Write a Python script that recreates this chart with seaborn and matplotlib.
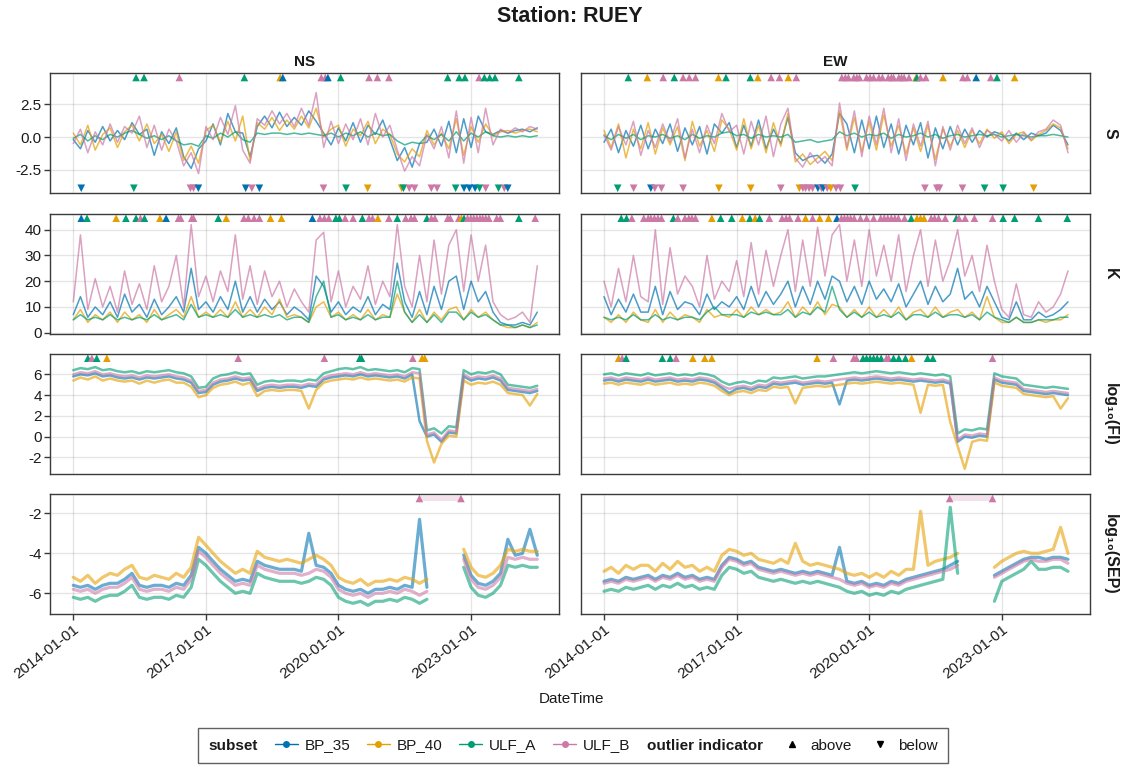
import numpy as np
import pandas as pd
import matplotlib
matplotlib.use("Agg")
import matplotlib.pyplot as plt
import matplotlib.dates as mdates
from matplotlib.lines import Line2D
import seaborn as sns

SUBSETS = ["BP_35", "BP_40", "ULF_A", "ULF_B"]
COLORS = ["#0072B2", "#E69F00", "#009E73", "#CC79A7"]
CODE = {"b": "BP_35", "o": "BP_40", "g": "ULF_A", "p": "ULF_B"}
COMPONENTS = ["NS", "EW"]
METRICS = ["S", "K", "FI", "SEP"]
ROW_LABELS = ["S", "K", "log₁₀(FI)", "log₁₀(SEP)"]
TICK_DATES = ["2014-01-01", "2017-01-01", "2020-01-01", "2023-01-01"]

# one value every two months, 2014-01 .. 2024-07 (one line per year)
DATES = pd.date_range("2014-01-01", periods=64, freq="2MS")
nan = np.nan

# ---------------- S ----------------
NS_S_BP35 = [-0.2, -0.9, 0.5, -0.4, 0.8, -0.3,
             0.5, -0.2, 1.1, 0.2, 0.6, -1.4,
             0.4, -0.5, 0.7, -1.5, -2.4, -0.9,
             -0.3, 1.0, -0.6, 1.8, 0.4, 0.3,
             -1.5, 0.8, 1.6, 0.7, 1.9, 0.8,
             1.5, 0.9, 2.0, 1.2, 0.3, -0.6,
             0.7, -0.3, 1.1, -0.4, 0.9, 0.2,
             1.3, -0.2, -1.8, -0.8, -2.3, -0.5,
             -0.4, 0.6, -0.7, 1.2, -1.2, 1.4,
             -0.8, 1.6, 0.4, 0.2, 0.5, 0.3,
             0.5, 0.6, 0.4, 0.7]
NS_S_BP40 = [0.3, -0.6, 0.9, -1.0, 0.2, 0.7,
             -0.8, 0.4, 0.9, -0.3, 1.0, -0.5,
             0.2, -1.1, 0.4, -1.8, -0.7, -2.0,
             0.5, 0.9, -0.4, 1.2, -0.3, 1.6,
             -1.8, 1.1, 0.6, 1.5, 0.5, 1.3,
             0.6, 1.6, 0.7, 2.2, 0.0, 0.6,
             0.9, -0.7, 0.6, 0.1, 1.2, -0.5,
             0.6, 0.2, -1.3, -1.9, -0.9, -1.5,
             0.5, -0.6, 0.3, -0.9, 1.4, -1.4,
             0.8, -0.4, 1.0, 0.1, 0.4, 0.5,
             0.3, 0.5, 0.6, 0.4]
NS_S_ULFA = [-0.1, 0.2, -0.3, 0.1, -0.2, 0.2,
             0.0, 0.3, 0.5, 0.2, -0.1, 0.1,
             -0.2, 0.1, -0.3, -0.6, -0.5, -0.7,
             0.1, -0.1, 0.3, 0.0, 0.4, -0.2,
             -0.4, 0.3, 0.2, 0.3, 0.3, 0.2,
             0.3, 0.2, 0.3, 0.2, 0.1, 0.3,
             0.0, 0.3, 0.1, 0.4, 0.0, 0.3,
             0.1, 0.2, -0.3, -0.6, -0.4, -0.5,
             0.1, -0.2, 0.2, -0.3, 0.4, -0.3,
             0.3, 0.0, 0.4, 0.1, 0.0, 0.1,
             0.0, 0.1, 0.0, 0.1]
NS_S_ULFB = [-0.5, 0.6, -1.2, 0.4, -0.6, 1.0,
             -0.4, 0.8, 0.3, 1.6, -0.8, 0.9,
             -1.0, 0.6, -0.3, -2.2, -1.2, -2.8,
             0.8, -0.2, 1.5, 0.2, 2.4, -1.0,
             -2.0, 1.4, 0.9, 2.0, 1.0, 1.8,
             0.8, 2.2, 0.9, 3.4, -0.8, 1.2,
             -0.5, 1.0, -0.2, 1.4, -0.6, 1.8,
             0.0, 0.9, -1.0, -2.6, -1.5, -2.2,
             0.2, -0.9, 0.8, -1.6, 2.0, -2.0,
             1.5, -1.2, 2.2, -0.6, 0.6, 0.3,
             0.7, 0.4, 0.8, 0.6]

EW_S_BP35 = [-0.4, 0.6, -1.2, 0.5, -0.7, 0.9,
             -0.9, 0.6, -0.5, 1.0, -1.1, 0.7,
             -0.6, 0.8, -1.3, 1.0, 0.3, 1.1,
             -0.8, 0.9, -0.7, 1.3, -0.9, 0.6,
             -0.5, 1.5, -1.2, -1.8, -1.5, -1.4,
             -2.0, -1.3, 1.8, 1.0, -1.2, 1.3,
             -0.9, 1.6, -0.8, 1.0, -1.3, 0.9,
             -0.6, 1.1, -1.6, 0.7, -0.9, 0.8,
             -0.6, 0.6, -0.4, 0.5, 0.0, 0.4,
             0.2, -0.3, 0.3, -0.2, 0.3, 0.1,
             0.3, 0.9, 0.5, -0.6]
EW_S_BP40 = [0.5, -0.8, 1.0, -1.6, 0.6, -0.9,
             1.1, -1.3, 0.7, -0.6, 0.8, -1.8,
             1.2, -0.7, 0.5, -1.1, 1.3, 0.6,
             -1.0, 1.4, -0.9, 0.9, -1.2, 1.1,
             -0.7, 1.8, -1.9, -1.3, -2.1, -1.6,
             -1.1, -1.8, 2.0, -1.0, 1.5, -1.1,
             1.2, -1.0, 1.7, -0.7, 0.9, -1.3,
             0.7, -1.1, 0.9, -1.7, 0.6, -0.7,
             0.5, -0.8, 0.5, -0.5, 0.6, -0.1,
             0.4, -0.5, 0.2, 0.4, -0.3, 0.2,
             0.5, 1.0, 0.7, -0.9]
EW_S_ULFA = [0.1, -0.2, 0.2, -0.1, 0.2, -0.2,
             0.1, 0.0, 0.2, -0.1, 0.1, -0.2,
             0.2, -0.1, 0.1, 0.0, 0.3, 0.4,
             0.1, 0.2, -0.1, 0.2, 0.0, 0.1,
             0.0, 0.2, -0.4, -0.3, -0.2, -0.4,
             -0.3, -0.2, 0.4, 0.1, 0.3, 0.0,
             0.2, 0.1, 0.3, -0.1, 0.2, 0.0,
             0.1, 0.3, 0.0, 0.2, -0.1, 0.1,
             0.2, 0.0, 0.1, 0.2, 0.1, 0.2,
             0.0, 0.1, 0.2, 0.1, 0.0, 0.1,
             0.1, 0.2, 0.1, 0.0]
EW_S_ULFB = [0.2, -1.0, 0.8, -0.6, 1.2, -1.4,
             0.5, -0.8, 1.0, -0.4, 1.4, -1.6,
             0.6, -1.2, 0.9, -0.5, 1.8, 0.4,
             0.9, -1.3, 1.2, -0.6, 1.6, -1.5,
             1.0, 2.2, -1.6, -2.3, -1.2, -2.0,
             -1.5, -2.2, 2.6, -0.8, 2.0, -1.5,
             1.6, -0.6, 2.2, -1.2, 1.4, -1.8,
             1.0, -0.7, 1.2, -2.2, 0.8, -1.0,
             0.9, -0.5, 0.7, -0.8, 0.5, 0.2,
             -0.3, 0.5, -0.4, 0.3, -0.2, 0.4,
             0.6, 1.3, 0.9, -1.2]

# ---------------- K ----------------
NS_K_BP35 = [7, 14, 6, 10, 7, 12,
             6, 15, 8, 11, 6, 13,
             7, 10, 14, 8, 25, 9,
             12, 8, 14, 9, 20, 8,
             14, 8, 13, 9, 12, 7,
             10, 8, 5, 22, 18, 8,
             12, 7, 10, 8, 14, 7,
             11, 9, 27, 12, 6, 16,
             7, 18, 9, 20, 22, 9,
             20, 12, 16, 8, 4, 3,
             3, 4, 3, 8]
NS_K_BP40 = [5, 9, 4, 7, 5, 8,
             4, 8, 5, 7, 4, 9,
             5, 7, 9, 6, 14, 6,
             8, 6, 9, 6, 12, 6,
             9, 6, 10, 7, 13, 6,
             7, 6, 4, 10, 12, 6,
             8, 5, 7, 5, 9, 5,
             7, 6, 15, 8, 4, 9,
             4, 8, 5, 9, 10, 5,
             9, 6, 8, 5, 3, 2,
             2, 3, 2, 4]
NS_K_ULFA = [5, 7, 5, 6, 5, 7,
             5, 6, 5, 6, 5, 7,
             5, 6, 7, 5, 11, 6,
             7, 6, 7, 6, 9, 6,
             7, 6, 7, 6, 7, 5,
             6, 6, 4, 14, 20, 6,
             7, 5, 6, 5, 7, 5,
             6, 6, 20, 8, 4, 7,
             4, 7, 4, 8, 8, 5,
             8, 6, 7, 5, 3, 3,
             2, 3, 2, 3]
NS_K_ULFB = [12, 38, 9, 21, 10, 18,
             8, 24, 11, 19, 9, 26,
             12, 18, 30, 10, 42, 14,
             22, 12, 24, 16, 38, 13,
             26, 11, 24, 14, 20, 10,
             17, 12, 8, 36, 39, 12,
             24, 10, 18, 13, 26, 11,
             20, 14, 42, 18, 10, 30,
             12, 36, 15, 34, 40, 16,
             38, 20, 34, 12, 7, 5,
             6, 8, 4, 26]

EW_K_BP35 = [14, 7, 13, 8, 15, 8,
             8, 18, 7, 16, 9, 12,
             11, 7, 15, 9, 12, 10,
             14, 9, 18, 10, 16, 11,
             15, 20, 10, 18, 11, 20,
             13, 22, 20, 12, 18, 11,
             20, 13, 17, 12, 19, 10,
             15, 20, 11, 18, 12, 15,
             25, 13, 16, 10, 18, 12,
             6, 5, 12, 5, 5, 8,
             6, 7, 9, 12]
EW_K_BP40 = [6, 4, 7, 4, 8, 5,
             4, 9, 4, 8, 5, 7,
             6, 4, 9, 6, 7, 6,
             9, 6, 10, 7, 9, 7,
             8, 12, 6, 10, 7, 12,
             7, 11, 10, 6, 9, 6,
             10, 6, 9, 6, 10, 5,
             8, 9, 6, 10, 6, 8,
             9, 6, 8, 5, 14, 6,
             4, 4, 6, 4, 4, 5,
             4, 5, 5, 7]
EW_K_ULFA = [6, 5, 6, 5, 7, 5,
             5, 7, 5, 6, 5, 6,
             6, 5, 8, 10, 7, 7,
             7, 6, 8, 7, 8, 7,
             7, 9, 6, 8, 7, 10,
             8, 18, 9, 6, 8, 6,
             8, 6, 7, 6, 8, 5,
             7, 7, 6, 8, 6, 7,
             7, 6, 7, 5, 8, 6,
             5, 4, 6, 4, 4, 5,
             5, 5, 6, 6]
EW_K_ULFB = [20, 10, 25, 12, 30, 14,
             12, 40, 11, 33, 15, 22,
             18, 10, 30, 13, 20, 16,
             28, 14, 35, 15, 32, 18,
             30, 40, 16, 36, 18, 41,
             22, 38, 42, 20, 36, 18,
             40, 22, 34, 20, 38, 16,
             30, 40, 18, 36, 20, 28,
             40, 22, 30, 16, 34, 20,
             9, 6, 19, 7, 6, 12,
             8, 10, 15, 24]

# ---------------- log10(FI) ----------------
NS_FI_BP35 = [5.8, 6.0, 5.9, 6.1, 5.8, 5.9,
              5.7, 5.6, 5.7, 5.5, 5.7, 5.6,
              5.7, 5.8, 5.6, 5.5, 5.2, 4.2,
              4.3, 5.0, 5.3, 5.4, 5.6, 5.4,
              5.5, 4.4, 4.7, 4.8, 4.7, 4.8,
              4.8, 4.7, 4.9, 4.8, 5.5, 5.7,
              5.8, 5.9, 5.8, 6.0, 5.8, 5.9,
              5.8, 5.7, 5.8, 5.6, 6.0, 1.5,
              0.0, 0.2, -0.5, 0.4, 0.3, 5.8,
              5.4, 5.6, 5.5, 5.7, 5.4, 4.5,
              4.4, 4.3, 4.2, 4.4]
NS_FI_BP40 = [5.4, 5.7, 5.5, 5.8, 5.4, 5.6,
              5.4, 5.3, 5.4, 5.1, 5.4, 5.2,
              5.4, 5.5, 5.2, 5.2, 4.8, 3.8,
              4.0, 4.7, 5.0, 5.1, 5.3, 5.0,
              5.2, 3.9, 4.4, 4.5, 4.4, 4.5,
              4.5, 4.4, 2.7, 4.5, 5.2, 5.4,
              5.5, 5.6, 5.5, 5.7, 5.5, 5.6,
              5.5, 5.4, 5.5, 5.3, 5.7, 5.6,
              -0.4, -2.5, -0.7, 0.1, 0.0, 5.4,
              5.0, 5.2, 5.1, 5.3, 5.0, 4.2,
              4.1, 4.0, 3.0, 4.1]
NS_FI_ULFA = [6.4, 6.6, 6.5, 6.7, 6.4, 6.5,
              6.3, 6.2, 6.3, 6.1, 6.3, 6.2,
              6.3, 6.4, 6.2, 6.1, 5.8, 4.7,
              4.8, 5.6, 5.9, 6.0, 6.2, 6.0,
              6.1, 5.0, 5.3, 5.4, 5.3, 5.4,
              5.4, 5.3, 5.5, 5.4, 6.1, 6.3,
              6.5, 6.6, 6.5, 6.7, 6.4, 6.5,
              6.4, 6.3, 6.4, 6.2, 6.6, 6.5,
              0.6, 0.8, 0.3, 1.0, 0.9, 6.4,
              6.0, 6.2, 6.1, 6.3, 6.0, 5.0,
              4.9, 4.8, 4.7, 4.9]
NS_FI_ULFB = [6.0, 6.2, 6.1, 6.3, 6.0, 6.1,
              5.9, 5.8, 5.9, 5.7, 5.9, 5.8,
              5.9, 6.0, 5.8, 5.7, 5.4, 4.4,
              4.5, 5.2, 5.5, 5.6, 5.8, 5.6,
              5.7, 4.6, 4.9, 5.0, 4.9, 5.0,
              5.0, 4.9, 5.1, 5.0, 5.7, 5.9,
              6.0, 6.1, 6.0, 6.2, 6.0, 6.1,
              6.0, 5.9, 6.0, 5.8, 6.2, 6.1,
              0.2, 0.4, -0.3, 0.6, 0.5, 6.0,
              5.6, 5.8, 5.7, 5.9, 5.6, 4.7,
              4.6, 4.5, 4.4, 4.6]

EW_FI_BP35 = [5.4, 5.5, 5.3, 5.5, 5.4, 5.3,
              5.5, 5.3, 5.4, 5.5, 5.3, 5.4,
              5.3, 5.5, 5.4, 5.2, 4.7, 4.2,
              4.6, 4.7, 4.5, 4.8, 4.7, 5.1,
              5.0, 5.1, 5.2, 5.0, 5.1, 5.2,
              5.1, 5.2, 3.1, 5.4, 5.5, 5.4,
              5.5, 5.6, 5.5, 5.4, 5.5, 5.4,
              5.3, 5.4, 5.3, 5.2, 5.3, 5.1,
              -0.5, 0.0, -0.1, 0.1, 0.0, 5.5,
              5.2, 5.1, 5.0, 4.4, 4.3, 4.2,
              4.1, 4.2, 4.1, 4.0]
EW_FI_BP40 = [5.1, 5.2, 5.0, 5.2, 5.1, 5.0,
              5.2, 5.0, 5.1, 5.2, 5.0, 5.1,
              5.0, 5.2, 5.1, 4.9, 4.4, 4.0,
              4.3, 4.4, 4.2, 4.5, 4.4, 4.8,
              4.7, 4.8, 3.2, 4.7, 4.8, 4.9,
              4.8, 4.9, 5.0, 5.1, 5.2, 5.1,
              5.2, 5.3, 5.2, 5.1, 5.2, 5.1,
              5.0, 2.3, 5.0, 4.9, 5.0, 1.4,
              -0.9, -3.1, -0.5, -0.3, -0.4, 5.2,
              4.9, 4.8, 4.7, 4.1, 4.0, 3.9,
              3.8, 3.9, 2.7, 3.7]
EW_FI_ULFA = [6.0, 6.1, 5.9, 6.1, 6.0, 5.9,
              6.1, 5.9, 6.0, 6.1, 5.9, 6.0,
              5.9, 6.1, 6.0, 5.8, 5.3, 5.0,
              5.2, 5.3, 5.1, 5.4, 5.3, 5.7,
              5.6, 5.7, 5.8, 5.6, 5.7, 5.8,
              5.8, 5.9, 6.0, 6.1, 6.2, 6.1,
              6.2, 6.3, 6.2, 6.1, 6.2, 6.1,
              6.0, 6.1, 6.0, 5.9, 6.0, 5.8,
              0.3, 0.7, 0.6, 0.8, 0.7, 6.1,
              5.8, 5.7, 5.6, 5.0, 4.9, 4.8,
              4.7, 4.8, 4.7, 4.6]
EW_FI_ULFB = [5.6, 5.7, 5.5, 5.7, 5.6, 5.5,
              5.7, 5.5, 5.6, 5.7, 5.5, 5.6,
              5.5, 5.7, 5.6, 5.4, 4.9, 4.6,
              4.8, 4.9, 4.7, 5.0, 4.9, 5.3,
              5.2, 5.3, 5.4, 5.2, 5.3, 5.4,
              5.3, 5.4, 5.5, 5.6, 5.7, 5.6,
              5.7, 5.8, 5.7, 5.6, 5.7, 5.6,
              5.5, 5.6, 5.5, 5.4, 5.5, 5.3,
              -0.3, 0.2, 0.1, 0.3, 0.2, 5.7,
              5.4, 5.3, 5.2, 4.6, 4.5, 4.4,
              4.3, 4.4, 4.3, 4.2]

# ---------------- log10(SEP) ----------------
NS_SEP_BP35 = [-5.6, -5.7, -5.6, -5.8, -5.6, -5.5,
               -5.5, -5.3, -5.0, -5.6, -5.7, -5.6,
               -5.6, -5.7, -5.5, -5.6, -5.1, -3.7,
               -4.0, -4.4, -4.8, -5.1, -5.4, -5.3,
               -5.4, -4.4, -4.6, -4.7, -4.8, -4.8,
               -4.8, -4.9, -3.0, -4.6, -4.7, -5.0,
               -5.6, -5.8, -5.9, -5.8, -6.0, -5.8,
               -5.8, -5.7, -5.8, -5.6, -5.7, -2.3,
               -5.7, nan, nan, nan, nan, -4.1,
               -5.1, -5.5, -5.6, -5.4, -5.0, -3.3,
               -4.1, -4.0, -2.8, -4.1]
NS_SEP_BP40 = [-5.2, -5.4, -5.1, -5.5, -5.2, -5.0,
               -5.1, -4.8, -4.6, -5.2, -5.3, -5.1,
               -5.2, -5.3, -5.0, -5.2, -4.7, -3.2,
               -3.6, -4.0, -4.4, -4.7, -5.0, -4.8,
               -5.0, -3.9, -4.2, -4.3, -4.4, -4.3,
               -4.4, -4.5, -4.3, -4.1, -4.3, -4.6,
               -5.2, -5.4, -5.5, -5.3, -5.6, -5.4,
               -5.4, -5.3, -5.4, -5.2, -5.3, -5.5,
               -5.3, nan, nan, nan, nan, -3.8,
               -4.7, -5.1, -5.2, -5.0, -4.6, -3.8,
               -3.9, -3.8, -3.9, -3.9]
NS_SEP_ULFA = [-6.2, -6.3, -6.2, -6.4, -6.2, -6.1,
               -6.1, -5.9, -5.6, -6.2, -6.3, -6.2,
               -6.2, -6.3, -6.1, -6.2, -5.7, -4.3,
               -4.6, -5.0, -5.4, -5.7, -6.0, -5.9,
               -6.0, -5.0, -5.2, -5.3, -5.4, -5.4,
               -5.4, -5.5, -5.4, -5.2, -5.3, -5.6,
               -6.2, -6.4, -6.5, -6.4, -6.6, -6.4,
               -6.4, -6.3, -6.4, -6.2, -6.3, -6.5,
               -6.3, nan, nan, nan, nan, -4.7,
               -5.7, -6.1, -6.2, -6.0, -5.6, -4.6,
               -4.7, -4.6, -4.7, -4.7]
NS_SEP_ULFB = [-5.8, -5.9, -5.8, -6.0, -5.8, -5.7,
               -5.7, -5.5, -5.2, -5.8, -5.9, -5.8,
               -5.8, -5.9, -5.7, -5.8, -5.3, -3.9,
               -4.2, -4.6, -5.0, -5.3, -5.6, -5.5,
               -5.6, -4.6, -4.8, -4.9, -5.0, -5.0,
               -5.0, -5.1, -5.0, -4.8, -4.9, -5.2,
               -5.8, -6.0, -6.1, -6.0, -6.2, -6.0,
               -6.0, -5.9, -6.0, -5.8, -5.9, -6.1,
               -5.9, nan, nan, nan, nan, -4.3,
               -5.3, -5.7, -5.8, -5.6, -5.2, -4.2,
               -4.3, -4.2, -4.3, -4.3]

EW_SEP_BP35 = [-5.4, -5.3, -5.4, -5.2, -5.3, -5.2,
               -5.1, -5.3, -5.1, -5.2, -5.0, -5.2,
               -5.1, -5.3, -5.2, -5.3, -4.6, -4.2,
               -4.3, -4.5, -4.4, -4.7, -4.8, -4.9,
               -4.8, -4.9, -5.0, -4.9, -5.0, -4.9,
               -5.0, -5.1, -3.7, -5.4, -5.5, -5.4,
               -5.6, -5.5, -5.6, -5.4, -5.5, -5.3,
               -5.2, -5.1, -5.0, -4.9, -4.8, -4.6,
               -4.4, nan, nan, nan, nan, -5.1,
               -4.9, -4.7, -4.5, -4.3, -4.2, -4.2,
               -4.3, -4.2, -4.2, -4.3]
EW_SEP_BP40 = [-4.9, -4.7, -5.0, -4.6, -4.8, -4.6,
               -4.6, -4.9, -4.5, -4.8, -4.4, -4.7,
               -4.6, -4.9, -4.7, -4.9, -4.1, -3.8,
               -3.9, -4.1, -4.0, -4.3, -4.4, -4.5,
               -4.3, -4.5, -3.5, -4.4, -4.6, -4.5,
               -4.6, -4.7, -4.8, -5.0, -5.1, -5.0,
               -5.2, -5.0, -5.2, -4.9, -5.1, -4.8,
               -4.8, -1.9, -4.6, -4.4, -4.3, -4.2,
               -4.0, nan, nan, nan, nan, -4.7,
               -4.4, -4.2, -4.0, -3.9, -4.0, -4.0,
               -3.9, -3.8, -2.7, -4.0]
EW_SEP_ULFA = [-5.9, -5.8, -5.9, -5.7, -5.8, -5.7,
               -5.6, -5.8, -5.6, -5.7, -5.5, -5.7,
               -5.6, -5.8, -5.7, -5.8, -5.1, -4.7,
               -4.8, -5.0, -4.9, -5.2, -5.3, -5.4,
               -5.3, -5.4, -5.5, -5.4, -5.5, -5.4,
               -5.5, -5.6, -5.7, -5.9, -6.0, -5.9,
               -6.1, -6.0, -6.1, -5.9, -6.0, -5.8,
               -5.7, -5.6, -5.5, -5.4, -5.3, -1.7,
               -5.0, nan, nan, nan, nan, -6.4,
               -5.4, -5.2, -5.0, -4.8, -4.4, -4.8,
               -4.8, -4.7, -4.7, -4.9]
EW_SEP_ULFB = [-5.5, -5.4, -5.5, -5.3, -5.4, -5.3,
               -5.2, -5.4, -5.2, -5.3, -5.1, -5.3,
               -5.2, -5.4, -5.3, -5.4, -4.7, -4.3,
               -4.4, -4.6, -4.5, -4.8, -4.9, -5.0,
               -4.9, -5.0, -5.1, -5.0, -5.1, -5.0,
               -5.1, -5.2, -5.3, -5.5, -5.6, -5.5,
               -5.7, -5.6, -5.7, -5.5, -5.6, -5.4,
               -5.3, -5.2, -5.1, -5.0, -4.9, -4.8,
               -4.6, nan, nan, nan, nan, -5.2,
               -5.0, -4.8, -4.6, -4.4, -4.3, -4.4,
               -4.4, -4.3, -4.3, -4.5]

# ---------------- outlier indicators (decimal year, subset code) ----------------
NS_S_UP = [(2015.42, "g"), (2015.60, "g"), (2016.40, "p"), (2017.87, "g"), (2018.68, "o"),
           (2018.74, "b"), (2019.61, "p"), (2019.70, "p"), (2019.76, "b"), (2020.05, "g"),
           (2020.69, "p"), (2020.88, "p"), (2021.14, "p"), (2022.47, "g"), (2022.73, "g"),
           (2022.86, "g"), (2023.18, "p"), (2023.30, "g"), (2023.42, "g"), (2023.54, "g"),
           (2024.08, "g")]
NS_S_DOWN = [(2014.18, "b"), (2015.37, "g"), (2016.65, "p"), (2016.72, "p"), (2016.83, "b"),
             (2017.90, "b"), (2018.04, "p"), (2018.21, "b"), (2019.66, "p"), (2020.17, "g"),
             (2020.66, "o"), (2021.43, "o"), (2021.47, "g"), (2021.60, "p"), (2021.72, "p"),
             (2022.10, "p"), (2022.23, "p"), (2022.65, "g"), (2022.84, "b"), (2022.96, "b"),
             (2023.09, "b"), (2023.19, "g"), (2023.33, "p"), (2023.62, "g"), (2023.75, "p"),
             (2023.83, "b")]
EW_S_UP = [(2014.55, "g"), (2014.98, "o"), (2015.34, "p"), (2015.59, "g"), (2015.79, "p"),
           (2015.93, "p"), (2016.07, "p"), (2016.59, "o"), (2016.76, "g"), (2017.31, "g"),
           (2017.48, "o"), (2017.78, "p"), (2017.97, "p"), (2018.17, "o"), (2018.35, "p"),
           (2019.38, "p"), (2019.46, "p"), (2019.53, "p"), (2019.65, "p"), (2019.72, "p"),
           (2019.78, "p"), (2019.94, "p"), (2020.02, "p"), (2020.10, "p"), (2020.22, "p"),
           (2020.30, "p"), (2020.43, "p"), (2020.50, "p"), (2020.55, "p"), (2020.67, "p"),
           (2020.73, "p"), (2020.79, "p"), (2020.90, "p"), (2021.06, "o"), (2021.08, "g"),
           (2021.16, "p"), (2021.28, "p"), (2021.67, "o"), (2022.12, "p"), (2022.22, "p"),
           (2022.42, "b"), (2022.75, "p"), (2022.89, "g"), (2023.29, "o")]
EW_S_DOWN = [(2014.31, "g"), (2014.67, "p"), (2015.06, "b"), (2015.15, "p"), (2015.30, "p"),
             (2015.79, "p"), (2016.60, "o"), (2017.32, "o"), (2018.00, "p"), (2018.42, "o"),
             (2018.50, "p"), (2018.56, "p"), (2018.64, "p"), (2018.72, "p"), (2018.84, "b"),
             (2018.92, "p"), (2018.96, "b"), (2019.05, "p"), (2019.13, "o"), (2019.25, "p"),
             (2019.35, "p"), (2019.68, "g"), (2021.26, "p"), (2021.53, "p"), (2021.59, "p"),
             (2022.11, "p"), (2022.61, "g"), (2023.03, "g"), (2023.72, "o")]
NS_K_UP = [(2014.18, "b"), (2014.31, "g"), (2014.97, "o"), (2015.19, "g"), (2015.42, "g"),
           (2015.52, "p"), (2015.61, "g"), (2015.96, "o"), (2016.10, "b"), (2016.38, "p"),
           (2016.43, "p"), (2016.68, "p"), (2016.72, "p"), (2017.28, "g"), (2017.46, "o"),
           (2017.86, "p"), (2017.96, "p"), (2018.09, "p"), (2018.21, "p"), (2018.46, "o"),
           (2018.71, "o"), (2019.41, "b"), (2019.58, "p"), (2019.68, "p"), (2019.78, "p"),
           (2019.94, "g"), (2020.02, "g"), (2020.15, "p"), (2020.33, "p"), (2020.54, "g"),
           (2020.69, "p"), (2020.77, "p"), (2020.89, "o"), (2021.14, "p"), (2021.33, "g"),
           (2021.52, "p"), (2021.64, "p"), (2021.72, "p"), (2022.00, "g"), (2022.10, "p"),
           (2022.18, "p"), (2022.47, "p"), (2022.53, "p"), (2022.72, "p"), (2022.78, "o"),
           (2022.84, "g"), (2022.92, "p"), (2022.99, "p"), (2023.06, "p"), (2023.13, "p"),
           (2023.20, "p"), (2023.26, "p"), (2023.33, "p"), (2023.40, "p"), (2023.58, "p"),
           (2023.66, "p"), (2024.08, "g"), (2024.45, "p")]
EW_K_UP = [(2014.39, "g"), (2014.51, "g"), (2014.63, "p"), (2014.90, "p"), (2015.00, "p"),
           (2015.06, "p"), (2015.14, "p"), (2015.22, "p"), (2015.30, "p"), (2015.57, "g"),
           (2015.67, "p"), (2015.83, "p"), (2015.92, "p"), (2015.99, "p"), (2016.07, "p"),
           (2016.44, "o"), (2016.64, "g"), (2016.89, "g"), (2017.13, "o"), (2017.30, "g"),
           (2017.42, "o"), (2017.52, "g"), (2017.74, "p"), (2018.03, "p"), (2018.12, "p"),
           (2018.20, "p"), (2018.39, "p"), (2018.56, "o"), (2018.72, "p"), (2018.88, "o"),
           (2019.08, "o"), (2019.27, "b"), (2019.37, "p"), (2019.44, "p"), (2019.51, "p"),
           (2019.58, "p"), (2019.66, "p"), (2019.80, "p"), (2019.94, "p"), (2020.10, "p"),
           (2020.26, "p"), (2020.34, "p"), (2020.42, "p"), (2020.50, "p"), (2020.58, "p"),
           (2020.66, "p"), (2020.80, "p"), (2020.95, "g"), (2021.08, "o"), (2021.16, "o"),
           (2021.24, "o"), (2021.40, "p"), (2021.48, "p"), (2021.57, "p"), (2021.72, "p"),
           (2021.97, "g"), (2022.03, "p"), (2022.17, "p"), (2022.38, "p"), (2022.79, "p"),
           (2023.03, "g"), (2023.29, "g"), (2023.83, "g"), (2024.48, "g")]
NS_FI_UP = [(2014.33, "g"), (2014.42, "p"), (2014.53, "g"), (2014.76, "o"), (2017.73, "p"),
            (2019.68, "p"), (2020.48, "g"), (2020.52, "g"), (2021.68, "p"), (2021.89, "o"),
            (2021.95, "o")]
EW_FI_UP = [(2014.33, "o"), (2014.41, "p"), (2014.50, "g"), (2015.32, "g"), (2015.50, "g"),
            (2015.63, "p"), (2016.01, "o"), (2016.28, "o"), (2016.44, "o"), (2018.82, "o"),
            (2019.19, "p"), (2019.65, "p"), (2019.71, "p"), (2019.86, "g"), (2019.94, "g"),
            (2020.02, "g"), (2020.10, "g"), (2020.18, "g"), (2020.27, "g"), (2020.39, "p"),
            (2020.44, "p"), (2020.55, "g"), (2020.67, "g"), (2020.82, "g"), (2020.96, "o"),
            (2021.32, "g"), (2021.44, "g"), (2022.79, "p")]
NS_SEP_UP = [(2021.83, "p"), (2022.77, "p")]
EW_SEP_UP = [(2021.82, "p"), (2022.79, "p")]
NS_SEP_FLAGGED = [2021.83, 2022.77]
EW_SEP_FLAGGED = [2021.82, 2022.79]

SERIES = {
    ("NS", "S"): [NS_S_BP35, NS_S_BP40, NS_S_ULFA, NS_S_ULFB],
    ("EW", "S"): [EW_S_BP35, EW_S_BP40, EW_S_ULFA, EW_S_ULFB],
    ("NS", "K"): [NS_K_BP35, NS_K_BP40, NS_K_ULFA, NS_K_ULFB],
    ("EW", "K"): [EW_K_BP35, EW_K_BP40, EW_K_ULFA, EW_K_ULFB],
    ("NS", "FI"): [NS_FI_BP35, NS_FI_BP40, NS_FI_ULFA, NS_FI_ULFB],
    ("EW", "FI"): [EW_FI_BP35, EW_FI_BP40, EW_FI_ULFA, EW_FI_ULFB],
    ("NS", "SEP"): [NS_SEP_BP35, NS_SEP_BP40, NS_SEP_ULFA, NS_SEP_ULFB],
    ("EW", "SEP"): [EW_SEP_BP35, EW_SEP_BP40, EW_SEP_ULFA, EW_SEP_ULFB],
}
OUTLIERS = {
    ("NS", "S"): (NS_S_UP, NS_S_DOWN), ("EW", "S"): (EW_S_UP, EW_S_DOWN),
    ("NS", "K"): (NS_K_UP, []), ("EW", "K"): (EW_K_UP, []),
    ("NS", "FI"): (NS_FI_UP, []), ("EW", "FI"): (EW_FI_UP, []),
    ("NS", "SEP"): (NS_SEP_UP, []), ("EW", "SEP"): (EW_SEP_UP, []),
}
FLAGGED = {("NS", "SEP"): NS_SEP_FLAGGED, ("EW", "SEP"): EW_SEP_FLAGGED}

YLIMS = {"S": (-4.3, 4.87), "K": (-0.5, 46.1), "FI": (-3.6, 7.96), "SEP": (-7.05, -1.05)}
YTICKS = {"S": [-2.5, 0.0, 2.5], "K": [0, 10, 20, 30, 40], "FI": [-2, 0, 2, 4, 6], "SEP": [-6, -4, -2]}
YFMT = {"S": "%.1f", "K": "%d", "FI": "%d", "SEP": "%d"}
# the smooth rows are drawn as thicker, lighter strokes (they are dense bands in the source)
LINE_W = {"S": 1.1, "K": 1.1, "FI": 1.8, "SEP": 2.3}
LINE_A = {"S": 0.7, "K": 0.7, "FI": 0.62, "SEP": 0.58}


def dec_year(y):
    y = np.atleast_1d(np.asarray(y, dtype=float))
    return pd.Timestamp("2014-01-01") + pd.to_timedelta((y - 2014.0) * 365.25, unit="D")


# long-form table, a new unit wherever a series has a gap
frames = []
for (comp, met), arrays in SERIES.items():
    for subset, vals in zip(SUBSETS, arrays):
        v = np.asarray(vals, dtype=float)
        frames.append(pd.DataFrame({"date": DATES, "value": v, "seg": np.cumsum(np.isnan(v)),
                                    "subset": subset, "component": comp, "metric": met}).dropna())
data = pd.concat(frames, ignore_index=True)

sns.set_style("white")
plt.rcParams["font.family"] = ["Liberation Sans", "DejaVu Sans"]
plt.rcParams["axes.unicode_minus"] = True

fig = plt.figure(figsize=(11.21, 7.65), dpi=100)
W, H = 509.3 / 1121, 120 / 765
LEFTS = [50 / 1121, 580.7 / 1121]
TOPS = [73.3, 214, 354, 494.3]
palette = dict(zip(SUBSETS, COLORS))
edge = "#3a3a3a"
ink = "#1a1a1a"

for r, met in enumerate(METRICS):
    for c, comp in enumerate(COMPONENTS):
        ax = fig.add_axes([LEFTS[c], 1 - (TOPS[r] + 120) / 765, W, H])
        sub = data[(data.component == comp) & (data.metric == met)]
        sns.lineplot(data=sub, x="date", y="value", hue="subset", hue_order=SUBSETS,
                     palette=palette, units="seg", estimator=None, lw=LINE_W[met],
                     alpha=LINE_A[met], legend=False, ax=ax)

        trans = ax.get_xaxis_transform()
        ups, downs = OUTLIERS[(comp, met)]
        for pts, mk, ypos in [(ups, "^", 0.965), (downs, "v", 0.042)]:
            if not pts:
                continue
            mdf = pd.DataFrame({"date": dec_year([p[0] for p in pts]),
                                "subset": [CODE[p[1]] for p in pts], "ypos": ypos})
            sns.scatterplot(data=mdf, x="date", y="ypos", hue="subset", palette=palette,
                            marker=mk, s=30, linewidth=0, legend=False, ax=ax, transform=trans)
        if (comp, met) in FLAGGED:
            ax.fill_between(dec_year(FLAGGED[(comp, met)]), 0.945, 0.985, transform=trans,
                            color=COLORS[3], alpha=0.22, lw=0)

        ax.set_xlim(dec_year(2013.473)[0], dec_year(2024.995)[0])
        ax.set_ylim(*YLIMS[met])
        ax.set_xticks(pd.to_datetime(TICK_DATES))
        ax.set_yticks(YTICKS[met])
        ax.yaxis.set_major_formatter(matplotlib.ticker.FormatStrFormatter(YFMT[met]))
        ax.grid(True, color="black", alpha=0.1, lw=1)
        ax.set_axisbelow(True)
        ax.set_xlabel("")
        ax.set_ylabel("")
        for s in ax.spines.values():
            s.set_color(edge)
            s.set_linewidth(1.0)

        if r == 3:
            ax.xaxis.set_major_formatter(mdates.DateFormatter("%Y-%m-%d"))
            ax.tick_params(axis="x", bottom=True, length=4, width=1, color=edge,
                           labelsize=11, labelcolor=ink, pad=2)
            plt.setp(ax.get_xticklabels(), rotation=38, ha="right", rotation_mode="anchor")
        else:
            ax.tick_params(axis="x", bottom=False, labelbottom=False)
        if c == 0:
            ax.tick_params(axis="y", left=True, length=4, width=1, color=edge,
                           labelsize=11, labelcolor=ink, pad=2)
        else:
            ax.tick_params(axis="y", left=False, labelleft=False)
        if r == 0:
            ax.set_title(comp, fontweight="bold", fontsize=11, pad=5, color=ink)

    fig.text(1110 / 1121, 1 - (TOPS[r] + 60) / 765, ROW_LABELS[r], rotation=-90,
             ha="center", va="center", fontweight="bold", fontsize=11.5, color=ink)

fig.text(570 / 1121, 1 - 17 / 765, "Station: RUEY", ha="center", va="center",
         fontweight="bold", fontsize=15.5, color=ink)
fig.text(571 / 1121, 1 - 699 / 765, "DateTime", ha="center", va="center", fontsize=11,
         color=ink)

HEADERS = ("subset", "outlier indicator")
handles = [Line2D([], [], ls="none", label=HEADERS[0])]
handles += [Line2D([], [], color=col, marker="o", ms=4, lw=1, label=s)
            for s, col in zip(SUBSETS, COLORS)]
handles += [Line2D([], [], ls="none", label=HEADERS[1]),
            Line2D([], [], color="black", marker="^", ms=4, ls="none", label="above"),
            Line2D([], [], color="black", marker="v", ms=4, ls="none", label="below")]
leg = fig.legend(handles=handles, loc="center", bbox_to_anchor=(573 / 1121, 1 - 745.5 / 765),
                 ncol=8, fontsize=11, frameon=True, fancybox=False, handlelength=1.5,
                 handletextpad=0.45, columnspacing=1.1, borderpad=0.7, borderaxespad=0)
leg.get_frame().set_edgecolor(edge)
leg.get_frame().set_linewidth(1.0)
for t in leg.get_texts():
    t.set_color(ink)
    if t.get_text() in HEADERS:
        t.set_fontweight("bold")
# header entries carry no symbol: collapse their empty handle boxes
for column in leg._legend_handle_box.get_children():
    for item in column.get_children():
        hbox, tbox = item.get_children()
        if tbox.get_children()[0].get_text() in HEADERS:
            hbox.width = 0
            item.sep = 0

fig.savefig("out.png", dpi=100)
